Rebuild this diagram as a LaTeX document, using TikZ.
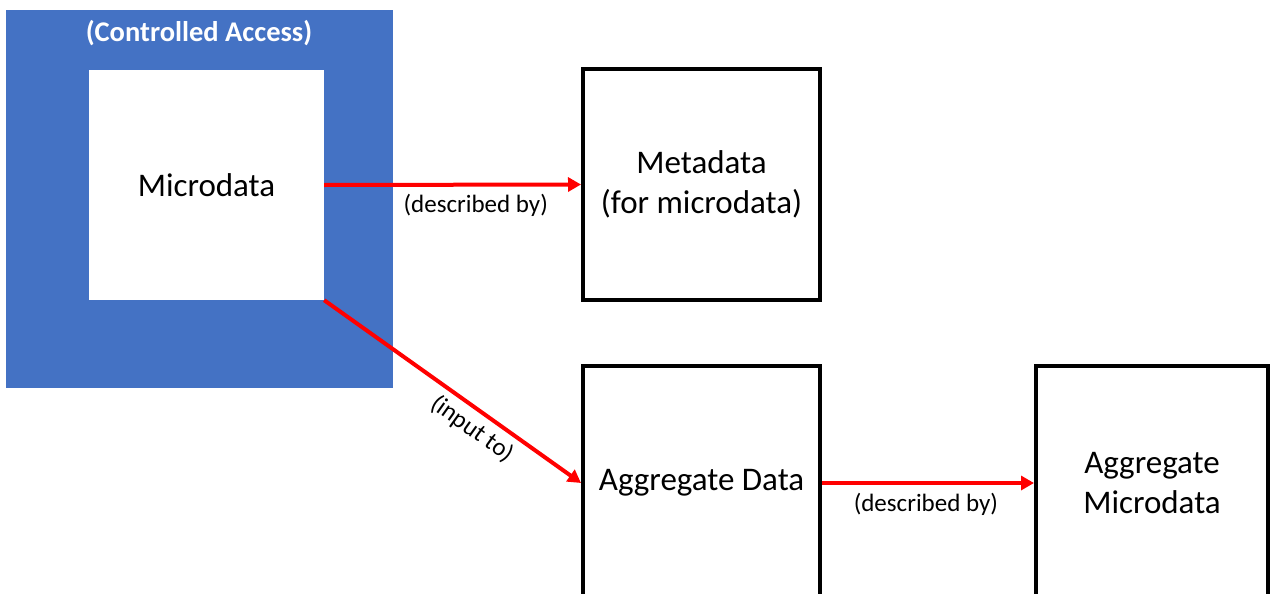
\documentclass[tikz,border=0pt]{standalone}
\usepackage{fontspec}
\setmainfont{Carlito}
\usetikzlibrary{arrows.meta}
\definecolor{ablue}{HTML}{4472C4}
\definecolor{ared}{HTML}{FF0000}
\tikzset{
  box/.style={draw=black, line width=4pt, fill=white, inner sep=0pt, align=center,
    font=\fontsize{33}{40}\selectfont},
  redarrow/.style={draw=ared, line width=4pt, -{Triangle[length=13pt,width=14pt]}},
  lbl/.style={font=\fontsize{25}{30}\selectfont, inner sep=2pt}
}
\begin{document}
\begin{tikzpicture}[x=1pt,y=-1pt]
\useasboundingbox (0,0) rectangle (1271,594);
\clip (0,0) rectangle (1271,594);
\fill[white] (0,0) rectangle (1271,594);
% controlled access area
\node[fill=ablue, minimum width=387pt, minimum height=378pt, inner sep=0pt] (ca) at (199.5,199) {};
\node[font=\fontsize{28.5}{32}\selectfont\bfseries, text=white] (catitle) at (199,33) {(Controlled Access)};
\node[fill=white, minimum width=235pt, minimum height=230pt, inner sep=0pt,
  font=\fontsize{33}{40}\selectfont] (micro) at (206.5,185) {Microdata};
\node[box, minimum width=237pt, minimum height=231pt] (meta) at (701.5,184.5) {Metadata\\(for microdata)};
\node[box, minimum width=237pt, minimum height=234pt] (aggd) at (701.5,483) {Aggregate Data};
\node[box, minimum width=232pt, minimum height=234pt] (aggm) at (1152,483) {Aggregate\\Microdata};
\draw[redarrow] (micro.east) -- node[lbl, pos=0.59, below=6pt] {(described by)} (meta.west);
\draw[redarrow] (micro.south east) -- node[lbl, pos=0.62, sloped, below=4pt] {(input to)} (aggd.west);
\draw[redarrow] (aggd.east) -- node[lbl, pos=0.49, below=6pt] {(described by)} (aggm.west);
\end{tikzpicture}
\end{document}
